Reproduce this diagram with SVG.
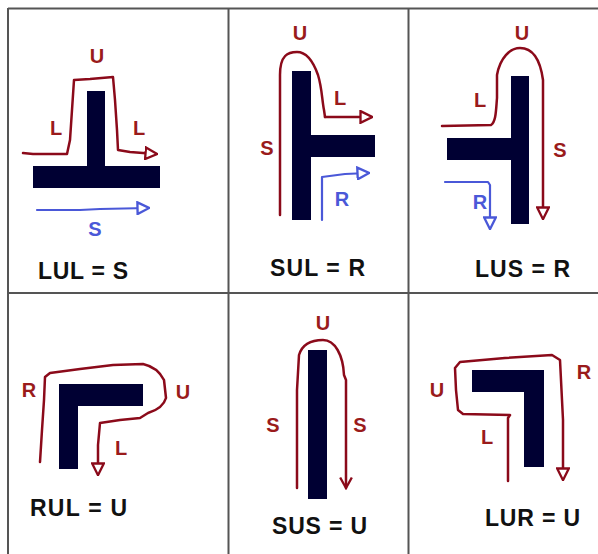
<svg xmlns="http://www.w3.org/2000/svg" width="598" height="554" viewBox="0 0 598 554">
<defs>
<style>
.grid{stroke:#555;stroke-width:2;fill:none}
.bar{fill:#000033}
.red{stroke:#8B0A1A;stroke-width:2.5;fill:none;stroke-linejoin:round;stroke-linecap:round}
.blue{stroke:#4A58D8;stroke-width:2.2;fill:none;stroke-linejoin:round;stroke-linecap:round}
.lr{font-family:"Liberation Sans",Arial,sans-serif;font-weight:bold;font-size:20px;fill:#9A1B1B;text-anchor:middle}
.lb{font-family:"Liberation Sans",Arial,sans-serif;font-weight:bold;font-size:20px;fill:#4A58D8;text-anchor:middle}
.eq{font-family:"Liberation Sans",Arial,sans-serif;font-weight:bold;font-size:23px;fill:#111}
</style>
<marker id="ar" viewBox="0 0 12 12" refX="10" refY="6" markerWidth="14" markerHeight="14" markerUnits="userSpaceOnUse" orient="auto">
<path d="M1,1 L11,6 L1,11 Z" fill="#fff" stroke="#8B0A1A" stroke-width="2"/>
</marker>
<marker id="ab" viewBox="0 0 12 12" refX="10" refY="6" markerWidth="14" markerHeight="14" markerUnits="userSpaceOnUse" orient="auto">
<path d="M1,1 L11,6 L1,11 Z" fill="#fff" stroke="#4A58D8" stroke-width="2"/>
</marker>
<marker id="av" viewBox="0 0 12 12" refX="10" refY="6" markerWidth="14" markerHeight="14" markerUnits="userSpaceOnUse" orient="auto">
<path d="M1,1 L10,6 L1,11" fill="none" stroke="#8B0A1A" stroke-width="2"/>
</marker>
</defs>

<g id="grid">
<path class="grid" d="M8,8.5 H598 M8,293 H598 M8,8 V554 M228.5,8 V554 M408.5,8 V554"/>
</g>

<g id="cell-lul">
<rect class="bar" x="33" y="166" width="127" height="22"/>
<rect class="bar" x="87" y="91" width="18" height="75"/>
<text class="lr" x="97" y="63">U</text>
<text class="lr" x="56" y="135">L</text>
<text class="lr" x="139" y="135">L</text>
<text class="lb" x="95" y="236">S</text>
<text class="eq" x="38" y="279" textLength="90" lengthAdjust="spacing">LUL = S</text>
</g>

<g id="cell-sul">
<rect class="bar" x="292" y="71" width="19" height="149"/>
<rect class="bar" x="311" y="135" width="64" height="22"/>
<text class="lr" x="300" y="40">U</text>
<text class="lr" x="340" y="105">L</text>
<text class="lr" x="267" y="155">S</text>
<text class="lb" x="342" y="206">R</text>
<text class="eq" x="270" y="276" textLength="95" lengthAdjust="spacing">SUL = R</text>
</g>

<g id="cell-lus">
<rect class="bar" x="511" y="76" width="18" height="148"/>
<rect class="bar" x="447" y="138" width="64" height="22"/>
<text class="lr" x="522" y="40">U</text>
<text class="lr" x="480" y="107">L</text>
<text class="lr" x="560" y="157">S</text>
<text class="lb" x="480" y="209">R</text>
<text class="eq" x="475" y="277" textLength="95" lengthAdjust="spacing">LUS = R</text>
</g>

<g id="cell-rul">
<rect class="bar" x="59" y="384" width="19" height="85"/>
<rect class="bar" x="59" y="384" width="84" height="22"/>
<text class="lr" x="29" y="397">R</text>
<text class="lr" x="183" y="399">U</text>
<text class="lr" x="121" y="455">L</text>
<text class="eq" x="30" y="516" textLength="97" lengthAdjust="spacing">RUL = U</text>
</g>

<g id="cell-sus">
<rect class="bar" x="308" y="350" width="19" height="149"/>
<text class="lr" x="323" y="330">U</text>
<text class="lr" x="273" y="432">S</text>
<text class="lr" x="360" y="432">S</text>
<text class="eq" x="272" y="534" textLength="95" lengthAdjust="spacing">SUS = U</text>
</g>

<g id="cell-lur">
<rect class="bar" x="472" y="370" width="72" height="22"/>
<rect class="bar" x="524" y="370" width="20" height="97"/>
<text class="lr" x="437" y="397">U</text>
<text class="lr" x="584" y="379">R</text>
<text class="lr" x="487" y="444">L</text>
<text class="eq" x="485" y="526" textLength="95" lengthAdjust="spacing">LUR = U</text>
</g>

<g id="connectors">
<path class="red" marker-end="url(#ar)" d="M23,153 L33,154 L67,154 L70,140 L72,110 L74,80 L90,79 L113,77 L115,100 L117,130 L118,150 L130,152 L156,154"/>
<path class="blue" marker-end="url(#ab)" d="M37,210 L60,210 L80,210 L100,209 L148,208"/>

<path class="red" d="M280,215 L280,75 C280,55 288,52 297,52 C304,52 312,58 318,75 C322,88 322,100 324,110 L325,117" />
<path class="red" marker-end="url(#ar)" d="M325,117 L371,117"/>
<path class="blue" marker-end="url(#ab)" d="M322,220 L322,177 L345,174 L368,173"/>

<path class="red" marker-end="url(#ar)" d="M442,126 L491,125 C496,122 496,110 497,98 L497,75 C500,58 510,48 520,48 C532,48 540,58 543,80 L543,218"/>
<path class="blue" marker-end="url(#ab)" d="M445,182 L488,182 L490,185 L490,228"/>

<path class="red" marker-end="url(#ar)" d="M40,462 L42,430 L44,400 L45,377 L50,373 L80,369 L113,365 L143,364 C152,366 160,372 164,380 L166,398 C164,405 158,410 148,413 L140,418 L120,420 L100,423 L98,445 L98,474"/>

<path class="red" marker-end="url(#av)" d="M297,488 L297,390 L299,355 C302,345 310,340 323,340 C335,340 343,355 344,375 L346,380 L346,488"/>

<path class="red" marker-end="url(#ar)" d="M508,481 L508,418 L510,415 L463,414 L458,410 L456,390 L455,368 L460,362 L505,358 L552,355 L560,360 L563,420 L563,479"/>
</g>
</svg>
